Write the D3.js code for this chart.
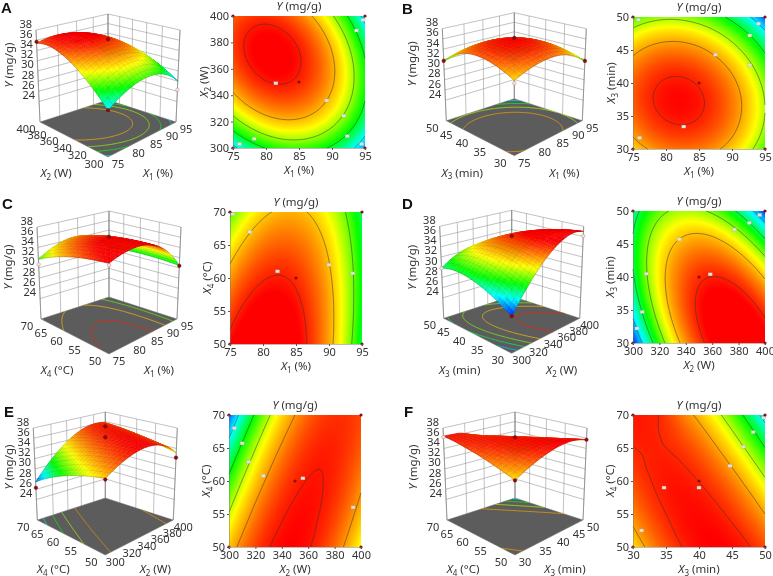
<!DOCTYPE html>
<html><head><meta charset="utf-8">
<style>html,body{margin:0;padding:0;background:#fff}#c,#s{position:absolute;left:0;top:0}text{font-family:"Noto Sans",sans-serif;fill:#333}</style>
<script src="https://cdn.jsdelivr.net/npm/d3@7"></script></head>
<body><canvas id="c" width="773" height="576"></canvas><svg id="s" width="773" height="576"></svg>
<script>
// Y (mg/g) at 11 x 11 factor levels; rows run from low to high vertical factor.
const tableA=[
[28.60,29.69,30.53,31.11,31.43,31.50,31.31,30.87,30.17,29.21,28.00],
[30.32,31.35,32.12,32.64,32.90,32.90,32.65,32.14,31.38,30.36,29.08],
[31.82,32.78,33.49,33.94,34.14,34.08,33.76,33.19,32.36,31.28,29.94],
[33.08,33.98,34.62,35.01,35.14,35.02,34.64,34.00,33.11,31.96,30.56],
[34.10,34.94,35.52,35.84,35.91,35.72,35.28,34.58,33.62,32.41,30.94],
[34.90,35.67,36.19,36.45,36.45,36.20,35.69,34.93,33.91,32.63,31.10],
[35.46,36.17,36.62,36.82,36.76,36.44,35.87,35.04,33.96,32.62,31.02],
[35.80,36.44,36.83,36.96,36.84,36.46,35.82,34.93,33.78,32.38,30.72],
[35.90,36.48,36.80,36.87,36.68,36.24,35.54,34.58,33.37,31.90,30.18],
[35.76,36.28,36.54,36.54,36.29,35.78,35.02,34.00,32.72,31.19,29.40],
[35.40,35.85,36.05,35.99,35.67,35.10,34.27,33.19,31.85,30.25,28.40]];
const tableB=[
[33.80,34.44,34.90,35.16,35.22,35.10,34.78,34.28,33.58,32.68,31.60],
[34.55,35.18,35.61,35.85,35.90,35.75,35.42,34.89,34.17,33.26,32.15],
[35.09,35.69,36.10,36.32,36.35,36.19,35.83,35.28,34.54,33.61,32.49],
[35.41,35.99,36.38,36.58,36.59,36.41,36.03,35.46,34.70,33.75,32.61],
[35.51,36.08,36.45,36.63,36.62,36.41,36.02,35.43,34.65,33.68,32.51],
[35.40,35.94,36.30,36.46,36.42,36.20,35.78,35.18,34.38,33.38,32.20],
[35.07,35.60,35.93,36.07,36.02,35.77,35.34,34.71,33.89,32.88,31.67],
[34.53,35.03,35.34,35.46,35.39,35.13,34.67,34.02,33.18,32.15,30.93],
[33.77,34.25,34.54,34.64,34.55,34.27,33.79,33.12,32.26,31.21,29.97],
[32.79,33.26,33.53,33.61,33.50,33.19,32.70,32.01,31.13,30.06,28.79],
[31.60,32.04,32.30,32.36,32.22,31.90,31.38,30.68,29.78,28.68,27.40]];
const tableC=[
[36.65,37.24,37.55,37.60,37.39,36.90,36.15,35.12,33.83,32.28,30.45],
[36.33,36.96,37.33,37.43,37.26,36.82,36.11,35.14,33.90,32.39,30.61],
[35.97,36.65,37.07,37.21,37.09,36.70,36.04,35.12,33.92,32.46,30.73],
[35.57,36.30,36.76,36.96,36.88,36.54,35.93,35.05,33.91,32.49,30.81],
[35.13,35.91,36.42,36.66,36.63,36.34,35.78,34.95,33.85,32.48,30.85],
[34.65,35.48,36.03,36.32,36.35,36.10,35.59,34.80,33.75,32.44,30.85],
[34.13,35.00,35.61,35.95,36.02,35.82,35.35,34.62,33.62,32.35,30.81],
[33.57,34.49,35.15,35.53,35.65,35.50,35.08,34.40,33.44,32.22,30.73],
[32.97,33.94,34.64,35.08,35.24,35.14,34.77,34.13,33.23,32.05,30.61],
[32.33,33.35,34.10,34.58,34.79,34.74,34.42,33.83,32.97,31.84,30.45],
[31.65,32.72,33.51,34.04,34.31,34.30,34.03,33.48,32.67,31.60,30.25]];
const tableD=[
[26.80,29.26,31.40,33.22,34.72,35.90,36.76,37.30,37.52,37.42,37.00],
[27.80,30.13,32.14,33.83,35.20,36.25,36.98,37.39,37.48,37.25,36.70],
[28.65,30.85,32.73,34.29,35.53,36.45,37.05,37.33,37.29,36.93,36.25],
[29.34,31.41,33.16,34.59,35.70,36.49,36.96,37.11,36.94,36.45,35.64],
[29.87,31.81,33.43,34.73,35.71,36.37,36.71,36.73,36.43,35.81,34.87],
[30.25,32.06,33.55,34.72,35.57,36.10,36.31,36.20,35.77,35.02,33.95],
[30.47,32.15,33.51,34.55,35.27,35.67,35.75,35.51,34.95,34.07,32.87],
[30.54,32.09,33.32,34.23,34.82,35.09,35.04,34.67,33.98,32.97,31.64],
[30.45,31.87,32.97,33.75,34.21,34.35,34.17,33.67,32.85,31.71,30.25],
[30.20,31.49,32.46,33.11,33.44,33.45,33.14,32.51,31.56,30.29,28.70],
[29.80,30.96,31.80,32.32,32.52,32.40,31.96,31.20,30.12,28.72,27.00]];
const tableE=[
[34.05,35.08,35.85,36.38,36.67,36.70,36.49,36.02,35.31,34.36,33.15],
[33.57,34.69,35.56,36.18,36.55,36.68,36.56,36.19,35.57,34.70,33.59],
[33.05,34.26,35.22,35.94,36.40,36.62,36.59,36.31,35.79,35.01,33.99],
[32.49,33.79,34.85,35.65,36.21,36.52,36.58,36.40,35.96,35.28,34.35],
[31.89,33.28,34.43,35.33,35.98,36.38,36.53,36.44,36.10,35.51,34.67],
[31.25,32.74,33.97,34.96,35.71,36.20,36.45,36.44,36.19,35.70,34.95],
[30.57,32.15,33.48,34.56,35.39,35.98,36.32,36.41,36.25,35.84,35.19],
[29.85,31.52,32.94,34.12,35.04,35.72,36.15,36.33,36.27,35.95,35.39],
[29.09,30.85,32.37,33.63,34.65,35.42,35.94,36.22,36.24,36.02,35.55],
[28.29,30.14,31.75,33.11,34.22,35.08,35.69,36.06,36.18,36.05,35.67],
[27.45,29.40,31.09,32.54,33.75,34.70,35.41,35.86,36.07,36.04,35.75]];
const tableF=[
[33.70,34.58,35.32,35.90,36.32,36.60,36.72,36.70,36.52,36.18,35.70],
[34.23,35.02,35.65,36.14,36.47,36.65,36.68,36.55,36.28,35.85,35.27],
[34.69,35.38,35.92,36.31,36.55,36.63,36.56,36.34,35.97,35.45,34.77],
[35.09,35.69,36.13,36.42,36.56,36.55,36.39,36.07,35.60,34.98,34.21],
[35.43,35.93,36.28,36.47,36.52,36.41,36.15,35.74,35.17,34.46,33.59],
[35.70,36.10,36.36,36.46,36.40,36.20,35.84,35.34,34.68,33.86,32.90],
[35.91,36.22,36.37,36.38,36.23,35.93,35.48,34.87,34.12,33.21,32.15],
[36.10,36.26,36.32,36.23,35.99,35.59,35.04,34.34,33.49,32.49,31.33],
[36.28,36.33,36.25,36.02,35.68,35.19,34.55,33.75,32.80,31.70,30.45],
[36.35,36.35,36.20,35.85,35.32,34.73,33.99,33.10,32.05,30.86,29.51],
[36.40,36.35,36.20,35.60,34.88,34.20,33.36,32.38,31.24,29.94,28.50]];

const levelsA=[36.4,34.3,32.4,30.8,29.0];
const levelsB=[36.3,34.5,32.6,30.7,28.8];
const levelsC=[36.3,34.1,31.9];
const levelsD=[36.3,34.1,32.2,30.4,28.5];
const levelsE=[36.42,34.7,32.7,30.9,28.9];
const levelsF=[36.22,34.5,32.7,30.85,29.1];

// factor names and tick values
const factorX1=["1"," (%)",[75,80,85,90,95]];
const factorX2=["2"," (W)",[300,320,340,360,380,400]];
const factorX3=["3"," (min)",[30,35,40,45,50]];
const factorX4=["4"," (°C)",[50,55,60,65,70]];
const zTicks=[24,26,28,30,32,34,36,38];

// design points shown on the 3D plots: [horizontal factor, depth factor, Y, below surface?]
const dotsA=[[75,400,35.7,0],[85,350,36.2,0],[75,300,28.6,0],[95,300,26.3,1]];
const dotsB=[[75,50,31.7,0],[85,40,36.2,0],[95,30,31.7,0],[75,30,33.3,1]];
const dotsC=[[75,70,30.7,1],[85,60,36.1,0],[75,50,36.3,1],[95,50,30.4,0]];
const dotsD=[[300,50,29.8,1],[350,40,36.1,0],[400,30,36.1,1],[300,30,26.8,0]];
const dotsE=[[300,70,26.3,0],[350,60,36.2,0],[400,70,35.0,0],[300,50,33.85,0],[400,50,32.2,0]];
const dotsF=[[30,70,36.2,1],[40,60,36.2,0],[50,50,35.7,0],[30,50,33.7,0]];

// contour label positions
const tagsA=[[81.5,349],[89.2,336],[91.8,324.5],[92.3,309],[94.5,303],[78.2,307],[76,303],[93.7,389],[94.7,397]];
const tagsB=[[82.7,33.4],[87.5,44.3],[92.7,42.7],[92.7,47.2],[94,49],[76,31.7],[75.8,49.6]];
const tagsC=[[82.2,61],[90,62],[93.6,60.7],[78,67],[75.4,69.7]];
const tagsD=[[358.5,40.4],[335,45.7],[310,40.5],[307,34.7],[303,32.2],[377,47.2],[388,48.2],[396,49.4]];
const tagsE=[[356,60.4],[394,56],[326,60.8],[315,62.9],[310,65.7],[304,68]];
const tagsF=[[34.7,59],[40,59],[31.3,52.5],[44.7,62.3],[46.7,65.2],[48.2,67.4],[49.8,69.6]];

const panels=[
 {id:"A",t:tableA,lv:levelsA,dots:dotsA,tags:tagsA,fx:factorX1,fy:factorX2,a:[108,157],r:[233,16,365,148],l:[1,13],skip:1,ty:20,yt:[-95,-92],cx:-25},
 {id:"B",t:tableB,lv:levelsB,dots:dotsB,tags:tagsB,fx:factorX1,fy:factorX3,a:[514.3,155.7],r:[633,17,765,149],l:[402,14],skip:1,ty:21,yt:[-98,-92],cx:-18},
 {id:"C",t:tableC,lv:levelsC,dots:dotsC,tags:tagsC,fx:factorX1,fy:factorX4,a:[109,354],r:[230,212,362,344],l:[2,209],skip:0,ty:20,yt:[-97,-87],cx:-19},
 {id:"D",t:tableD,lv:levelsD,dots:dotsD,tags:tagsD,fx:factorX2,fy:factorX3,a:[511.7,353.3],r:[633,211,765,343],l:[402,209],skip:0,ty:21,yt:[-96,-86],cx:-19},
 {id:"E",t:tableE,lv:levelsE,dots:dotsE,tags:tagsE,fx:factorX2,fy:factorX4,a:[105.3,555],r:[229,415,361,547],l:[4,417],skip:1,ty:18,yt:[-92,-88],cx:-19},
 {id:"F",t:tableF,lv:levelsF,dots:dotsF,tags:tagsF,fx:factorX3,fy:factorX4,a:[515,555],r:[633,415,765,547],l:[404,417],skip:1,ty:18,yt:[-98,-88],cx:-19}
];

const color=d3.scaleLinear().domain([26.5,29,31,33.3,36.7]).range(["#0000ff","#00ffff","#00ff00","#ffff00","#ff0000"]).clamp(true);
const svg=d3.select("#s"), ctx=document.getElementById("c").getContext("2d");
const FONT=11;

// Display smoothing of a read table (a curve through its values), like a smoothed line.
function at(T,i,j){
 if(j<0) return 3*at(T,i,0)-3*at(T,i,1)+at(T,i,2);
 if(j>10) return 3*at(T,i,10)-3*at(T,i,9)+at(T,i,8);
 if(i<0) return 3*T[j][0]-3*T[j][1]+T[j][2];
 if(i>10) return 3*T[j][10]-3*T[j][9]+T[j][8];
 return T[j][i];
}
function cr(a,b,c,d,t){return b+.5*t*(c-a+t*(2*a-5*b+4*c-d+t*(3*(b-c)+d-a)));}
function sample(T,u,v){
 const fu=u*10,fv=v*10,i=Math.min(Math.floor(fu),9),j=Math.min(Math.floor(fv),9),tu=fu-i,tv=fv-j,r=[];
 for(let k=-1;k<=2;k++) r.push(cr(at(T,i-1,j+k),at(T,i,j+k),at(T,i+1,j+k),at(T,i+2,j+k),tu));
 return cr(r[0],r[1],r[2],r[3],tv);
}
function quad(p00,p10,p11,p01){
 const dx1=p10[0]-p11[0],dx2=p01[0]-p11[0],sx=p00[0]-p10[0]+p11[0]-p01[0];
 const dy1=p10[1]-p11[1],dy2=p01[1]-p11[1],sy=p00[1]-p10[1]+p11[1]-p01[1];
 const den=dx1*dy2-dx2*dy1,g=(sx*dy2-dx2*sy)/den,h=(dx1*sy-sx*dy1)/den;
 const a=p10[0]-p00[0]+g*p10[0],b=p01[0]-p00[0]+h*p01[0],c=p00[0];
 const d=p10[1]-p00[1]+g*p10[1],e=p01[1]-p00[1]+h*p01[1],f=p00[1];
 return (u,v)=>{const w=g*u+h*v+1;return [(a*u+b*v+c)/w,(d*u+e*v+f)/w];};
}
function contourLines(T,level){
 const N=81,grid=new Float64Array(N*N);
 for(let j=0;j<N;j++)for(let i=0;i<N;i++)grid[j*N+i]=sample(T,i/(N-1),j/(N-1));
 const cs=d3.contours().size([N,N]).thresholds([level])(Array.from(grid))[0];
 const out=[],cl=c=>Math.max(0,Math.min(1,(c-.5)/(N-1)));
 cs.coordinates.forEach(poly=>poly.forEach(ring=>{
  let cur=[];
  for(let k=0;k<ring.length;k++){
   const p=[cl(ring[k][0]),cl(ring[k][1])];
   if(cur.length){
    const q=cur[cur.length-1];
    const edge=(p[0]===q[0]&&(p[0]===0||p[0]===1))||(p[1]===q[1]&&(p[1]===0||p[1]===1));
    if(edge){if(cur.length>1)out.push(cur);cur=[];}
   }
   cur.push(p);
  }
  if(cur.length>1)out.push(cur);
 }));
 return out;
}
function axisTitle(sel,f){
 sel.append("tspan").attr("font-style","italic").text("X");
 sel.append("tspan").attr("dy",2.5).attr("font-size",8).text(f[0]);
 sel.append("tspan").attr("dy",-2.5).text(f[1]);
}

panels.forEach(P=>{
 const T=P.t,[fx,fy]=P.a,xd=d3.extent(P.fx[2]),yd=d3.extent(P.fy[2]);
 const us=d3.scaleLinear(xd,[0,1]),vs=d3.scaleLinear(yd,[0,1]),zs=d3.scaleLinear([20,38],[0,1]);
 const floorQ=quad([fx,fy],[fx+68,fy-35],[fx,fy-57],[fx-68,fy-35]);
 const topQ=quad([fx,fy-98],[fx+72,fy-127],[fx,fy-143],[fx-72,fy-127]);
 const proj=(u,v,w)=>{const a=floorQ(u,v),b=topQ(u,v);return [a[0]+(b[0]-a[0])*w,a[1]+(b[1]-a[1])*w];};
 const g=svg.append("g");
 const lineG=d3.line();
 // letter
 svg.append("text").attr("x",P.l[0]).attr("y",P.l[1]).text(P.id).style("font-family","'Liberation Sans',sans-serif").style("font-weight","bold").style("font-size","15px").style("fill","#111");
 // walls
 const grid=g.append("g").attr("fill","none").attr("stroke","#999").attr("stroke-width",.6);
 P.fx[2].forEach(t=>grid.append("path").attr("d",lineG([proj(us(t),1,0),proj(us(t),1,1)])));
 P.fy[2].forEach(t=>grid.append("path").attr("d",lineG([proj(1,vs(t),0),proj(1,vs(t),1)])));
 zTicks.forEach(z=>{const w=zs(z);grid.append("path").attr("d",lineG([proj(0,1,w),proj(1,1,w),proj(1,0,w)]));});
 grid.append("path").attr("d",lineG([proj(0,1,0),proj(0,1,1)])).attr("stroke","#777");
 grid.append("path").attr("d",lineG([proj(1,0,0),proj(1,0,1)])).attr("stroke","#777");
 grid.append("path").attr("d",lineG([proj(1,1,0),proj(1,1,1)])).attr("stroke","#777");
 // floor
 g.append("path").attr("d",lineG([proj(0,0,0),proj(1,0,0),proj(1,1,0),proj(0,1,0)])+"Z").attr("fill","#5c5c5c").attr("stroke","#777").attr("stroke-width",.5);
 const lines=P.lv.map(l=>[l,contourLines(T,l)]);
 lines.slice(P.skip).forEach(([l,segs])=>segs.forEach(s=>g.append("path").attr("d",lineG(s.map(p=>proj(p[0],p[1],0)))).attr("fill","none").attr("stroke",color(l)).attr("stroke-opacity",.68).attr("stroke-width",1)));
 // surface, painted back to front
 const n=40,cells=[];
 const pts=d3.range(n+1).map(j=>d3.range(n+1).map(i=>{const y=sample(T,i/n,j/n);return {y,p:proj(i/n,j/n,zs(y))};}));
 d3.range(n).forEach(j=>d3.range(n).forEach(i=>cells.push([i,j])));
 cells.sort((a,b)=>(b[0]+b[1])-(a[0]+a[1]));
 const ops=[];
 cells.forEach(([i,j])=>{
  const a=pts[j][i],b=pts[j][i+1],c=pts[j+1][i+1],d=pts[j+1][i];
  ops.push({d:lineG([a.p,b.p,c.p,d.p])+"Z",c:color((a.y+b.y+c.y+d.y)/4),m:0});
  let m="";
  if(i%2===0)m+=lineG([a.p,d.p]);
  if(j%2===0)m+=lineG([a.p,b.p]);
  if(i===n-1)m+=lineG([b.p,c.p]);
  if(j===n-1)m+=lineG([d.p,c.p]);
  if(m)ops.push({d:m,m:1});
 });
 g.append("g").selectAll("path").data(ops).join("path").attr("d",o=>o.d)
  .attr("fill",o=>o.m?"none":o.c).attr("stroke",o=>o.m?"#000":o.c)
  .attr("stroke-width",o=>o.m?.35:.4).attr("stroke-opacity",o=>o.m?.5:1);
 // design points
 g.append("g").selectAll("circle").data(P.dots).join("circle")
  .attr("cx",d=>proj(us(d[0]),vs(d[1]),zs(d[2]))[0]).attr("cy",d=>proj(us(d[0]),vs(d[1]),zs(d[2]))[1])
  .attr("r",1.8).attr("fill",d=>d[3]?"#f3e6e6":"#8a0d12").attr("stroke",d=>d[3]?"#a77":"#600").attr("stroke-width",.4);
 // 3D tick labels
 const tx=svg.append("g").attr("font-size",FONT);
 zTicks.forEach(z=>{const p=proj(0,1,zs(z));tx.append("text").attr("x",p[0]-4).attr("y",p[1]-2.5).attr("text-anchor","end").text(z);});
 P.fx[2].forEach(t=>{const p=proj(us(t),0,0);tx.append("text").attr("x",p[0]+10).attr("y",p[1]+11).attr("text-anchor","middle").text(t);});
 P.fy[2].forEach(t=>{const p=proj(0,vs(t),0);tx.append("text").attr("x",p[0]-14).attr("y",p[1]+11).attr("text-anchor","middle").text(t);});
 const big=svg.append("g").attr("font-size",11.5);
 axisTitle(big.append("text").attr("x",fx-52).attr("y",fy+P.ty).attr("text-anchor","middle"),P.fy);
 axisTitle(big.append("text").attr("x",fx+50).attr("y",fy+P.ty).attr("text-anchor","middle"),P.fx);
 const yt=big.append("text").attr("transform",`translate(${fx+P.yt[0]},${fy+P.yt[1]}) rotate(-90)`).attr("text-anchor","middle");
 yt.append("tspan").attr("font-style","italic").text("Y");yt.append("tspan").text(" (mg/g)");

 // contour plot
 const [x0,y0,x1,y1]=P.r,W=x1-x0,H=y1-y0;
 const x=d3.scaleLinear(xd,[x0,x1]),y=d3.scaleLinear(yd,[y1,y0]);
 const im=ctx.createImageData(W,H);
 for(let py=0;py<H;py++)for(let px=0;px<W;px++){
  const c=d3.rgb(color(sample(T,(px+.5)/W,1-(py+.5)/H))),o=(py*W+px)*4;
  im.data[o]=c.r;im.data[o+1]=c.g;im.data[o+2]=c.b;im.data[o+3]=255;
 }
 ctx.putImageData(im,x0,y0);
 const cg=svg.append("g");
 lines.forEach(([l,segs])=>segs.forEach(s=>cg.append("path").attr("d",lineG(s.map(p=>[x0+p[0]*W,y1-p[1]*H]))).attr("fill","none").attr("stroke","#333").attr("stroke-opacity",.75).attr("stroke-width",.7)));
 cg.selectAll("rect.t").data(P.tags).join("rect").attr("x",d=>x(d[0])-2).attr("y",d=>y(d[1])-1.5).attr("width",4).attr("height",3).attr("fill","#e6e2d8").attr("stroke","#aaa").attr("stroke-width",.3);
 const corners=[[xd[0],yd[0]],[xd[1],yd[0]],[xd[1],yd[1]],[xd[0],yd[1]],[(xd[0]+xd[1])/2,(yd[0]+yd[1])/2]];
 cg.selectAll("circle").data(corners).join("circle").attr("cx",d=>x(d[0])).attr("cy",d=>y(d[1])).attr("r",1.6).attr("fill","#8a0d12");
 const ax=svg.append("g").attr("transform",`translate(0,${y1})`).call(d3.axisBottom(x).tickValues(P.fx[2]).tickSize(2).tickPadding(2));
 const ay=svg.append("g").attr("transform",`translate(${x0},0)`).call(d3.axisLeft(y).tickValues(P.fy[2]).tickSize(2).tickPadding(2));
 [ax,ay].forEach(s=>{s.attr("font-size",FONT).attr("font-family",null);s.select(".domain").attr("stroke","#777").attr("stroke-width",.5);s.selectAll("line").attr("stroke","#555");s.selectAll("text").attr("fill",null);});
 const bb=svg.append("g").attr("font-size",11.5);
 const tt=bb.append("text").attr("x",(x0+x1)/2).attr("y",y0-6).attr("text-anchor","middle");
 tt.append("tspan").attr("font-style","italic").text("Y");tt.append("tspan").text(" (mg/g)");
 axisTitle(bb.append("text").attr("x",(x0+x1)/2).attr("y",y1+26).attr("text-anchor","middle"),P.fx);
 axisTitle(bb.append("text").attr("transform",`translate(${x0+P.cx},${(y0+y1)/2}) rotate(-90)`).attr("text-anchor","middle"),P.fy);
});
</script></body></html>
